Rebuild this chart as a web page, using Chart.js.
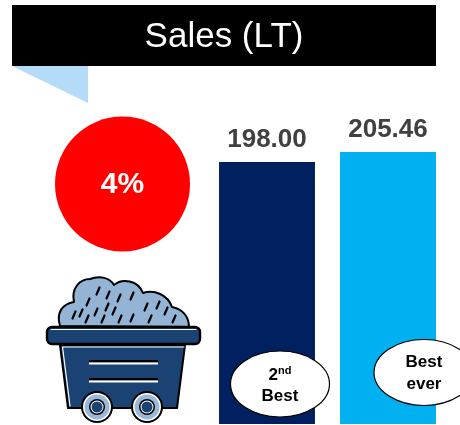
<!DOCTYPE html>
<html>
<head>
<meta charset="utf-8">
<style>
html,body{margin:0;padding:0;background:#fff;overflow:hidden}
#wrap{position:relative;width:460px;height:425px}
canvas{display:block}
</style>
<script src="https://cdn.jsdelivr.net/npm/chart.js@4"></script>
</head>
<body>
<div id="wrap"><canvas id="c" width="460" height="425"></canvas></div>
<script>
const categories = ["2nd Best", "Best ever"];
const salesValues = [198.00, 205.46];
const valueLabels = ["198.00", "205.46"];
const barColours = ["#002060", "#00b0f0"];
const titleText = "Sales (LT)";
const changeText = "4%";
const FONT = '"Liberation Sans", Arial, sans-serif';

function text(ctx, s, x, y, font, colour, align) {
  ctx.font = font; ctx.fillStyle = colour;
  ctx.textAlign = align || "center"; ctx.textBaseline = "middle";
  ctx.fillText(s, x, y);
}
function ellipse(ctx, cx, cy, rx, ry) {
  ctx.beginPath(); ctx.ellipse(cx, cy, rx, ry, 0, 0, Math.PI * 2);
  ctx.fillStyle = "#fff"; ctx.fill();
  ctx.lineWidth = 1.2; ctx.strokeStyle = "#000"; ctx.stroke();
}
function wheel(ctx, x, y) {
  const rings = [[16, "#000"], [14, "#fff"], [12.5, "#9ab8d8"], [8, "#000"], [6.5, "#fff"], [5.5, "#1a4273"]];
  rings.forEach(r => { ctx.beginPath(); ctx.arc(x, y, r[0], 0, Math.PI * 2); ctx.fillStyle = r[1]; ctx.fill(); });
}
function cart(ctx) {
  ctx.save();
  ctx.lineJoin = "round"; ctx.lineCap = "round";
  // ore heap
  ctx.beginPath();
  ctx.moveTo(60, 326);
  ctx.bezierCurveTo(56, 313, 62, 304, 74, 302);
  ctx.bezierCurveTo(71, 288, 80, 279, 90, 279);
  ctx.bezierCurveTo(100, 275, 110, 278, 114, 285);
  ctx.bezierCurveTo(122, 278, 138, 280, 143, 293);
  ctx.bezierCurveTo(154, 289, 168, 295, 172, 307);
  ctx.bezierCurveTo(182, 309, 189, 316, 189, 327);
  ctx.closePath();
  ctx.fillStyle = "#94b4d6"; ctx.fill();
  ctx.lineWidth = 2; ctx.strokeStyle = "#000"; ctx.stroke();
  // ore specks
  const specks = [[98,291],[108,295],[88,302],[119,298],[132,296],[107,307],[96,312],[114,311],[146,307],[158,305],[166,311],[74,315],[81,313],[87,319],[103,319],[120,319],[132,318],[150,319],[174,319]];
  ctx.lineWidth = 2.2; ctx.strokeStyle = "#000";
  specks.forEach(p => { ctx.beginPath(); ctx.moveTo(p[0] + 1.5, p[1] - 3.5); ctx.lineTo(p[0] - 1.5, p[1] + 3.5); ctx.stroke(); });
  // body
  ctx.beginPath();
  ctx.moveTo(60, 345); ctx.lineTo(185, 345); ctx.lineTo(177, 408); ctx.lineTo(68, 408); ctx.closePath();
  ctx.fillStyle = "#1a4273"; ctx.fill();
  ctx.lineWidth = 2; ctx.strokeStyle = "#000"; ctx.stroke();
  ctx.beginPath(); ctx.moveTo(62.5, 347); ctx.lineTo(184, 347); ctx.moveTo(62.5, 347); ctx.lineTo(70, 406);
  ctx.lineWidth = 1.2; ctx.strokeStyle = "#fff"; ctx.stroke();
  // rim
  ctx.beginPath(); ctx.roundRect(47, 327, 153, 17, 5);
  ctx.fillStyle = "#1a4273"; ctx.fill();
  ctx.lineWidth = 2.4; ctx.strokeStyle = "#000"; ctx.stroke();
  ctx.beginPath(); ctx.moveTo(51, 329.5); ctx.lineTo(196, 329.5);
  ctx.lineWidth = 1; ctx.strokeStyle = "#fff"; ctx.stroke();
  // slats
  [361, 379].forEach(y => {
    ctx.lineCap = "butt";
    ctx.beginPath(); ctx.moveTo(89, y); ctx.lineTo(158, y); ctx.lineWidth = 2; ctx.strokeStyle = "#000"; ctx.stroke();
    ctx.beginPath(); ctx.moveTo(89, y + 2.5); ctx.lineTo(158, y + 2.5); ctx.lineWidth = 1.8; ctx.strokeStyle = "#fff"; ctx.stroke();
  });
  wheel(ctx, 97, 407);
  wheel(ctx, 147, 407);
  ctx.restore();
}

const decorations = {
  id: "decorations",
  beforeDatasetsDraw(chart) {
    const ctx = chart.ctx;
    ctx.save();
    ctx.fillStyle = "#000"; ctx.fillRect(12, 5, 424, 61);
    text(ctx, titleText, 224, 37, "35px " + FONT, "#fff");
    ctx.beginPath(); ctx.moveTo(12, 66); ctx.lineTo(88, 66); ctx.lineTo(88, 103); ctx.closePath();
    ctx.fillStyle = "#b4dbf7"; ctx.fill();
    ctx.beginPath(); ctx.arc(122.5, 184, 67.5, 0, Math.PI * 2);
    ctx.fillStyle = "#ff0000"; ctx.fill();
    text(ctx, changeText, 122.5, 185, "bold 30px " + FONT, "#fff");
    cart(ctx);
    ctx.restore();
  },
  afterDatasetsDraw(chart) {
    const ctx = chart.ctx;
    const meta = chart.getDatasetMeta(0);
    ctx.save();
    meta.data.forEach((bar, i) => {
      text(ctx, valueLabels[i], bar.x, bar.y - 22, "bold 26px " + FONT, "#404040");
    });
    ellipse(ctx, 280, 384, 49.5, 33);
    ctx.font = "bold 17px " + FONT;
    const w = ctx.measureText("2").width;
    ctx.font = "bold 11px " + FONT;
    const sw = ctx.measureText("nd").width;
    const sx = 280 - (w + sw) / 2;
    text(ctx, "2", sx, 375, "bold 17px " + FONT, "#000", "left");
    text(ctx, "nd", sx + w, 371, "bold 11px " + FONT, "#000", "left");
    text(ctx, "Best", 280, 396, "bold 17px " + FONT, "#000");
    ellipse(ctx, 424, 372.5, 50, 33);
    text(ctx, "Best", 424, 362, "bold 17px " + FONT, "#000");
    text(ctx, "ever", 424, 384, "bold 17px " + FONT, "#000");
    ctx.restore();
  }
};

new Chart(document.getElementById("c"), {
  type: "bar",
  data: {
    labels: categories,
    datasets: [{
      data: salesValues,
      backgroundColor: barColours,
      borderWidth: 0,
      categoryPercentage: 1,
      barPercentage: 0.793
    }]
  },
  options: {
    responsive: false,
    animation: false,
    events: [],
    layout: { padding: { left: 206.5, right: 11.5, top: 27, bottom: 1 } },
    plugins: { legend: { display: false }, tooltip: { enabled: false }, title: { display: false } },
    scales: {
      x: { display: false },
      y: { display: false, min: 0, max: 300 }
    }
  },
  plugins: [decorations]
});
</script>
</body>
</html>
